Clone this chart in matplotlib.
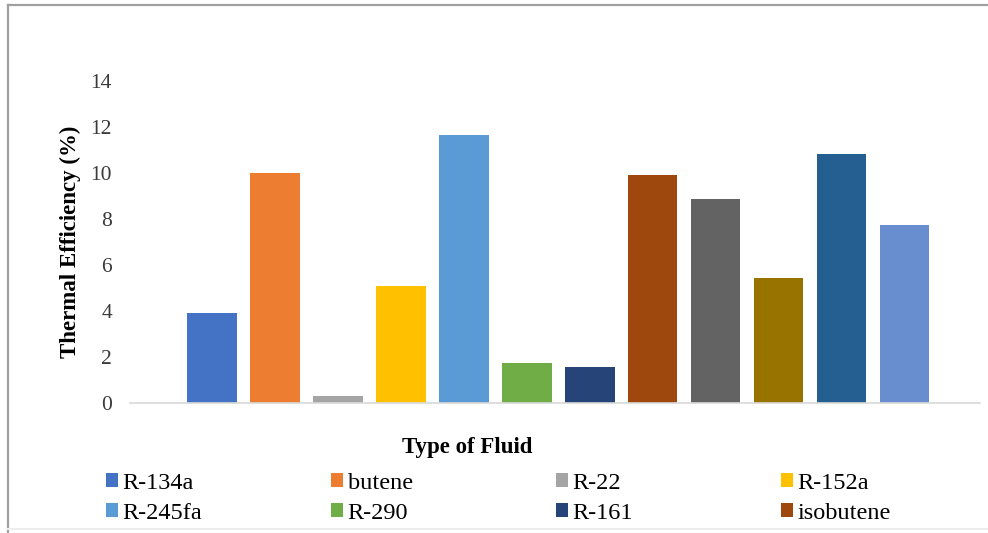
import matplotlib
matplotlib.use('Agg')
import matplotlib.pyplot as plt
from matplotlib.patches import Patch
from matplotlib.lines import Line2D

# thermal efficiency per working fluid
fluids = ['R-134a', 'butene', 'R-22', 'R-152a', 'R-245fa', 'R-290', 'R-161', 'isobutene']
efficiency = [3.90, 10.02, 0.30, 5.10, 11.67, 1.72, 1.57, 9.93, 8.88, 5.45, 10.83, 7.76]
colors = ['#4472C4', '#ED7D31', '#A5A5A5', '#FFC000', '#5B9BD5', '#70AD47',
          '#264478', '#9E480E', '#636363', '#997300', '#255E91', '#698ED0']
yticks = [0, 2, 4, 6, 8, 10, 12, 14]

plt.rcParams['font.family'] = ['Liberation Serif', 'DejaVu Serif']

W, H = 988, 533
fig = plt.figure(figsize=(W / 100, H / 100), dpi=100)
ax = fig.add_axes([130 / W, 1 - 403 / H, 850 / W, 322 / H])

xs = range(len(efficiency))
ax.bar(xs, efficiency, width=0.79, color=colors)

ax.set_xlim(-1.3, 12.2)
ax.set_ylim(0, 14)
ax.set_yticks(yticks)
ax.set_xticks([])
ax.tick_params(axis='y', length=0, pad=13, labelsize=15.5, labelcolor='#3A3A3A')
for s in ['top', 'right', 'left']:
    ax.spines[s].set_visible(False)
ax.spines['bottom'].set_color('#D9D9D9')
ax.spines['bottom'].set_linewidth(1.2)

fig.text(70 / W, 1 - 242 / H, 'Thermal Efficiency (%)', rotation=90,
         ha='center', va='center', fontsize=16.5, fontweight='bold')
fig.text(467 / W, 1 - 447 / H, 'Type of Fluid', ha='center', va='center',
         fontsize=16.5, fontweight='bold')

# legend, one column at a time so the columns sit on an even grid
col_x = [106, 331, 556, 781]
for j, cx in enumerate(col_x):
    idx = [j, j + 4]
    handles = [Patch(facecolor=colors[i], edgecolor='none') for i in idx]
    labels = [fluids[i] for i in idx]
    fig.legend(handles, labels, loc='upper left',
               bbox_to_anchor=(cx / W, 1 - 473 / H), frameon=False,
               fontsize=17.5, handlelength=0.5, handleheight=0.5,
               handletextpad=0.18, labelspacing=0.35, borderpad=0,
               borderaxespad=0)

# chart border
fig.add_artist(Line2D([8 / W, 1], [1 - 4.5 / H, 1 - 4.5 / H], color='#A0A0A0', lw=1.6))
fig.add_artist(Line2D([8 / W, 8 / W], [0, 1 - 4.5 / H], color='#A0A0A0', lw=1.6))
fig.add_artist(Line2D([8 / W, 1], [1 - 529 / H, 1 - 529 / H], color='#EDEDED', lw=1.5))

fig.savefig('out.png', dpi=100)
